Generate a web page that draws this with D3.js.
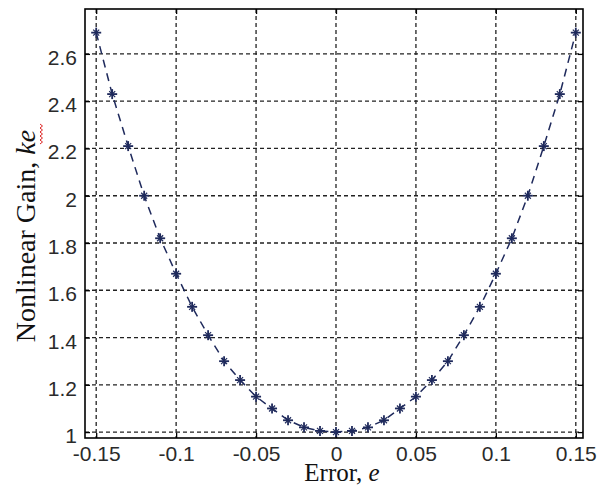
<!DOCTYPE html>
<html><head><meta charset="utf-8">
<script src="https://cdn.jsdelivr.net/npm/d3@7"></script>
<style>body{margin:0;background:#fff}svg{display:block}</style>
</head><body>
<svg id="c" width="598" height="487"></svg>
<script>
const errors = [-0.15,-0.14,-0.13,-0.12,-0.11,-0.10,-0.09,-0.08,-0.07,-0.06,-0.05,-0.04,-0.03,-0.02,-0.01,0,
  0.01,0.02,0.03,0.04,0.05,0.06,0.07,0.08,0.09,0.10,0.11,0.12,0.13,0.14,0.15];
const gains = [2.69,2.43,2.21,2.00,1.82,1.67,1.53,1.41,1.30,1.22,1.15,1.10,1.05,1.02,1.005,1.00,
  1.005,1.02,1.05,1.10,1.15,1.22,1.30,1.41,1.53,1.67,1.82,2.00,2.21,2.43,2.69];
const xTicks = [-0.15,-0.1,-0.05,0,0.05,0.1,0.15];
const xTickLabels = ["-0.15","-0.1","-0.05","0","0.05","0.1","0.15"];
const yTicks = [1,1.2,1.4,1.6,1.8,2,2.2,2.4,2.6];
const yTickLabels = ["1","1.2","1.4","1.6","1.8","2","2.2","2.4","2.6"];

const svg = d3.select("#c");
const L=85, R=583, T=9, B=438;
const x = d3.scaleLinear().domain([-0.157,0.1545]).range([L,R]);
const y = d3.scaleLinear().domain([0.975,2.79]).range([B,T]);

// grid
const grid = svg.append("g").attr("stroke","#222").attr("stroke-width",1.3).attr("stroke-dasharray","4,3");
grid.selectAll("line.v").data(xTicks).join("line")
  .attr("x1",d=>x(d)).attr("x2",d=>x(d)).attr("y1",T).attr("y2",B);
grid.selectAll("line.h").data(yTicks).join("line")
  .attr("y1",d=>y(d)).attr("y2",d=>y(d)).attr("x1",L).attr("x2",R);

// axes with inward ticks
const tickFont = "'Liberation Sans', Arial, sans-serif";
const xb = svg.append("g").attr("transform",`translate(0,${B})`)
  .call(d3.axisBottom(x).tickValues(xTicks).tickFormat((d,i)=>xTickLabels[i]).tickSizeInner(-5).tickSizeOuter(0).tickPadding(0));
const xt = svg.append("g").attr("transform",`translate(0,${T})`)
  .call(d3.axisTop(x).tickValues(xTicks).tickFormat("").tickSizeInner(-5).tickSizeOuter(0));
const yl = svg.append("g").attr("transform",`translate(${L},0)`)
  .call(d3.axisLeft(y).tickValues(yTicks).tickFormat((d,i)=>yTickLabels[i]).tickSizeInner(-5).tickSizeOuter(0).tickPadding(8));
const yr = svg.append("g").attr("transform",`translate(${R},0)`)
  .call(d3.axisRight(y).tickValues(yTicks).tickFormat("").tickSizeInner(-5).tickSizeOuter(0));
[xb,xt,yl,yr].forEach(g=>{
  g.select(".domain").remove();
  g.selectAll("line").attr("stroke","#000").attr("stroke-width",1.3);
  g.selectAll("text").attr("font-family",tickFont).attr("font-size",21).attr("fill","#2a2a2a");
});
xb.selectAll("text").attr("y",23).attr("dy",null);
yl.selectAll("text").attr("dy","0.5em");
svg.append("rect").attr("x",L).attr("y",T).attr("width",R-L).attr("height",B-T)
  .attr("fill","none").attr("stroke","#000").attr("stroke-width",1.6);

// data line
const pts = errors.map((e,i)=>[e,gains[i]]);
svg.append("path").datum(pts)
  .attr("d",d3.line().x(d=>x(d[0])).y(d=>y(d[1])))
  .attr("fill","none").attr("stroke","#1f2a5c").attr("stroke-width",1.5).attr("stroke-dasharray","8,6");
// markers
const mk = svg.append("g").attr("stroke","#1f2a5c").attr("stroke-width",1.8);
pts.forEach(d=>{
  const cx=x(d[0]), cy=y(d[1]);
  mk.append("line").attr("x1",cx-5).attr("x2",cx+5).attr("y1",cy).attr("y2",cy);
  mk.append("line").attr("x1",cx).attr("x2",cx).attr("y1",cy-5).attr("y2",cy+5);
  mk.append("line").attr("x1",cx-3).attr("x2",cx+3).attr("y1",cy-3).attr("y2",cy+3).attr("stroke-width",1.2);
  mk.append("line").attr("x1",cx-3).attr("x2",cx+3).attr("y1",cy+3).attr("y2",cy-3).attr("stroke-width",1.2);
});

// axis labels
const serif = "'Liberation Serif', 'Times New Roman', serif";
const xlab = svg.append("text").attr("x",342).attr("y",481).attr("text-anchor","middle")
  .attr("font-family",serif).attr("font-size",25).attr("fill","#111");
xlab.append("tspan").text("Error, ");
xlab.append("tspan").attr("font-style","italic").text("e");

const ylab = svg.append("text").attr("transform","translate(35,236) rotate(-90)").attr("text-anchor","middle")
  .attr("font-family",serif).attr("font-size",28).attr("fill","#111");
ylab.append("tspan").text("Nonlinear Gain, ");
ylab.append("tspan").attr("font-style","italic").text("ke");
// red spell-check squiggle
let sq = "M40,144";
for(let i=0;i<10;i++){ sq += ` L${i%2?40:42.5},${144-(i+1)*2}`; }
svg.append("path").attr("d",sq).attr("fill","none").attr("stroke","#d22").attr("stroke-width",1);
</script>
</body></html>
